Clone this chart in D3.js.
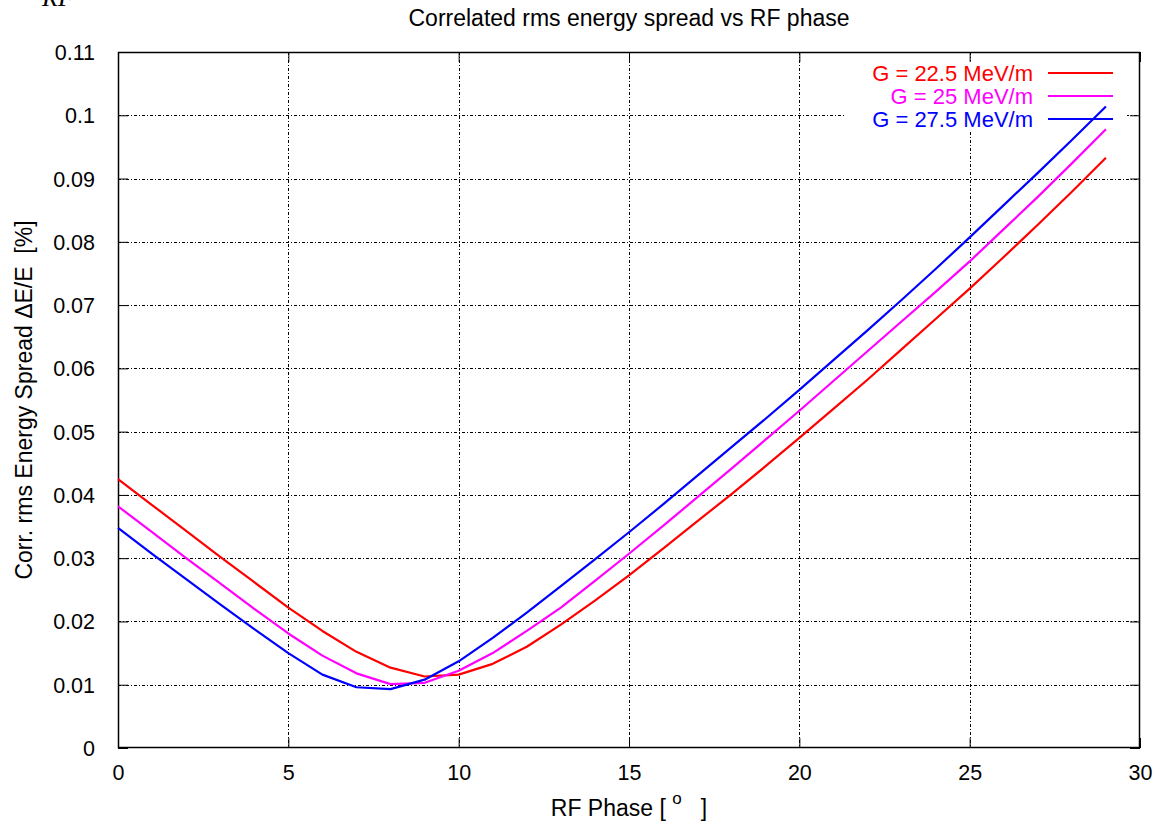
<!DOCTYPE html>
<html>
<head>
<meta charset="utf-8">
<script src="https://cdn.jsdelivr.net/npm/d3@7"></script>
<style>
  body { margin: 0; background: #fff; }
  svg { display: block; font-family: "Liberation Sans", Arial, sans-serif; }
  text { white-space: pre; }
</style>
</head>
<body>
<svg id="chart" width="1163" height="822"></svg>
<script>
const phases = [0,1,2,3,4,5,6,7,8,9,10,11,12,13,14,15,16,17,18,19,20,21,22,23,24,25,26,27,28,29];
const g225 = [0.0425,0.0384,0.0343,0.0302,0.0262,0.0222,0.0185,0.0152,0.0127,0.0113,0.0116,0.0133,0.0160,0.0195,0.0233,0.0273,0.0315,0.0358,0.0401,0.0445,0.0490,0.0536,0.0582,0.0630,0.0678,0.0726,0.0776,0.0827,0.0879,0.0933];
const g25  = [0.0382,0.0341,0.0300,0.0260,0.0220,0.0181,0.0146,0.0118,0.0101,0.0103,0.0122,0.0150,0.0185,0.0222,0.0264,0.0307,0.0351,0.0396,0.0441,0.0487,0.0533,0.0580,0.0627,0.0674,0.0721,0.0769,0.0820,0.0871,0.0924,0.0978];
const g275 = [0.0348,0.0307,0.0267,0.0227,0.0188,0.0150,0.0116,0.0096,0.0093,0.0108,0.0137,0.0174,0.0214,0.0256,0.0298,0.0341,0.0385,0.0430,0.0475,0.0520,0.0566,0.0613,0.0660,0.0708,0.0757,0.0807,0.0858,0.0909,0.0961,0.1014];
const seriesNames = ["G = 22.5 MeV/m", "G = 25 MeV/m", "G = 27.5 MeV/m"];
const seriesColors = ["#ff0000", "#ff00ff", "#0000ff"];
const xTicks = [0,5,10,15,20,25,30];
const yTicks = [0,0.01,0.02,0.03,0.04,0.05,0.06,0.07,0.08,0.09,0.1,0.11];
const yTickLabels = ["0","0.01","0.02","0.03","0.04","0.05","0.06","0.07","0.08","0.09","0.1","0.11"];

const svg = d3.select("#chart");
const L = 118, R = 1140, T = 52, B = 748;
const x = d3.scaleLinear().domain([0,30]).range([L,R]);
const y = d3.scaleLinear().domain([0,0.11]).range([B,T]);

// grid
const grid = svg.append("g").attr("stroke","#000").attr("stroke-width",1).attr("stroke-dasharray","3,2,1,2");
grid.selectAll("line.vx").data(xTicks.slice(1,-1)).enter().append("line")
  .attr("x1", d => Math.round(x(d))+0.5).attr("x2", d => Math.round(x(d))+0.5)
  .attr("y1", T).attr("y2", B);
grid.selectAll("line.hy").data(yTicks.slice(1,-1)).enter().append("line")
  .attr("y1", d => Math.round(y(d))+0.5).attr("y2", d => Math.round(y(d))+0.5)
  .attr("x1", L).attr("x2", R);

// legend background (masks grid)
svg.append("rect").attr("x",845).attr("y",61).attr("width",282).attr("height",70).attr("fill","#fff");

// axes
const fsTick = 21.5, fs = 23, fsLeg = 22;
const xAxis = svg.append("g").attr("transform",`translate(0,${B})`)
  .call(d3.axisBottom(x).tickValues(xTicks).tickSize(-10).tickPadding(17).tickSizeOuter(0));
const xAxisTop = svg.append("g").attr("transform",`translate(0,${T})`)
  .call(d3.axisTop(x).tickValues(xTicks).tickSize(-10).tickFormat("").tickSizeOuter(0));
const yAxis = svg.append("g").attr("transform",`translate(${L},0)`)
  .call(d3.axisLeft(y).tickValues(yTicks).tickFormat((d,i) => yTickLabels[i]).tickSize(-10).tickPadding(23).tickSizeOuter(0));
const yAxisR = svg.append("g").attr("transform",`translate(${R},0)`)
  .call(d3.axisRight(y).tickValues(yTicks).tickFormat("").tickSize(-10).tickSizeOuter(0));
[xAxis,xAxisTop,yAxis,yAxisR].forEach(a => {
  a.select(".domain").remove();
  a.selectAll("text").attr("font-size",fsTick).attr("font-family","Liberation Sans, Arial, sans-serif").attr("fill","#000");
  a.selectAll(".tick line").attr("stroke","#000");
});
yAxis.selectAll("text").attr("dy","0.35em");
svg.append("rect").attr("x",L+0.5).attr("y",T+0.5).attr("width",R-L-1).attr("height",B-T-1)
  .attr("fill","none").attr("stroke","#000").attr("stroke-width",1.5);

// lines
const data = [g225, g25, g275];
const line = d3.line().x((d,i) => x(phases[i])).y(d => y(d));
svg.append("g").selectAll("path").data(data).enter().append("path")
  .attr("d", line).attr("fill","none")
  .attr("stroke",(d,i) => seriesColors[i]).attr("stroke-width",2.2).attr("stroke-linejoin","round");

// legend
const leg = svg.append("g");
seriesNames.forEach((n,i) => {
  const cy = 73 + i*23;
  leg.append("text").attr("x",1033).attr("y",cy + 8).attr("text-anchor","end")
    .attr("font-size",fsLeg).attr("fill",seriesColors[i]).text(n);
  leg.append("line").attr("x1",1048).attr("x2",1113).attr("y1",cy).attr("y2",cy)
    .attr("stroke",seriesColors[i]).attr("stroke-width",2.2);
});

// titles
svg.append("text").attr("x",629).attr("y",18).attr("dy","0.35em").attr("text-anchor","middle")
  .attr("font-size",fs).text("Correlated rms energy spread vs RF phase");
const xl = svg.append("text").attr("x",629).attr("y",816).attr("text-anchor","middle")
  .attr("font-size",fs);
xl.append("tspan").text("RF Phase [ ");
xl.append("tspan").attr("dy",-12).attr("font-size",17).text("o");
xl.append("tspan").attr("dy",12).text("   ]");
svg.append("text").attr("transform","translate(32,400) rotate(-90)").attr("text-anchor","middle")
  .attr("font-size",fs).text("Corr. rms Energy Spread \u0394E/E  [%]");
svg.append("text").attr("x",42).attr("y",6).attr("font-family","Liberation Serif, serif")
  .attr("font-style","italic").attr("font-size",26).text("RF");
</script>
</body>
</html>
